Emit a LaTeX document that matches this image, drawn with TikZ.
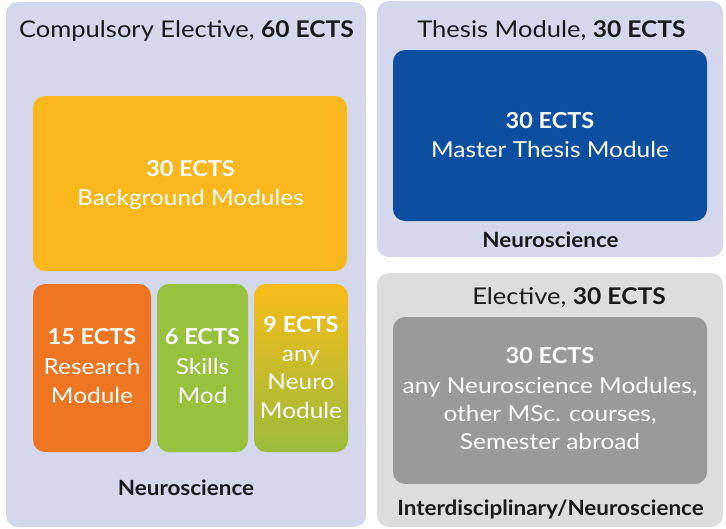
\documentclass[tikz,border=0pt]{standalone}
\usepackage{fontspec}
\setmainfont{Lato}[FakeStretch=1.11, BoldFeatures={FakeStretch=1.07}]
\definecolor{panelc}{HTML}{D5D8EC}
\definecolor{grayp}{HTML}{DDDDDD}
\definecolor{grayin}{HTML}{9A9A9A}
\definecolor{yellowc}{HTML}{FAB81C}
\definecolor{orangec}{HTML}{EE7522}
\definecolor{greenc}{HTML}{98C13D}
\definecolor{gtop}{HTML}{F8BC18}
\definecolor{gmid}{HTML}{EE7623}
\definecolor{gbot}{HTML}{9CBB3C}
\definecolor{bluec}{HTML}{0C4FA0}
\definecolor{darkt}{HTML}{1A1A1A}
\begin{document}
\begin{tikzpicture}[x=1pt,y=-1pt,
  panel/.style={rounded corners=12pt, inner sep=0pt, outer sep=0pt},
  box/.style={rounded corners=12pt, inner sep=0pt, outer sep=0pt},
  title/.style={anchor=base, inner sep=0pt, text=darkt, font=\fontsize{23}{28}\selectfont},
  foot/.style={anchor=base, inner sep=0pt, text=darkt, font=\fontsize{21}{25}\selectfont\bfseries},
  wt/.style={anchor=base, inner sep=0pt, text=white, font=\fontsize{22}{26}\selectfont},
  wb/.style={wt, font=\fontsize{22}{26}\selectfont\bfseries}]
\useasboundingbox (0,0) rectangle (726,528);
% panels
\node[panel, fill=panelc, minimum width=360pt, minimum height=525pt] (L) at (186,264.5) {};
\node[panel, fill=panelc, minimum width=346pt, minimum height=256pt] (RT) at (550,129) {};
\node[panel, fill=grayp, minimum width=346pt, minimum height=254pt] (RB) at (550,400) {};
% inner boxes
\node[box, fill=yellowc, minimum width=314pt, minimum height=175pt] (Y) at (190,183.5) {};
\node[box, fill=orangec, minimum width=118pt, minimum height=168pt] (O) at (92,368) {};
\node[box, fill=greenc, minimum width=91pt, minimum height=168pt] (G) at (202.5,368) {};
\node[box, top color=gtop, middle color=gmid, bottom color=gbot, minimum width=94pt, minimum height=168pt] (N) at (301,368) {};
\node[box, fill=bluec, minimum width=314pt, minimum height=171pt] (B) at (550,135.5) {};
\node[box, fill=grayin, minimum width=314pt, minimum height=167pt] (E) at (550,400.5) {};
% titles
\node[title] (tL) at (186.5,37) {Compulsory Elective, \textbf{60 ECTS}};
\node[title] (tRT) at (551.5,37) {Thesis Module, \textbf{30 ECTS}};
\node[title] (tRB) at (569,304) {Elective, \textbf{30 ECTS}};
% footers
\node[foot] (fL) at (186,495) {Neuroscience};
\node[foot] (fRT) at (550.5,247) {Neuroscience};
\node[foot] (fRB) at (550.5,515) {Interdisciplinary/Neuroscience};
% yellow
\node[wb] (y1) at (190.5,176) {30 ECTS};
\node[wt] (y2) at (190.5,205) {Background Modules};
% orange
\node[wb] (o1) at (92,344) {15 ECTS};
\node[wt] (o2) at (92,374) {Research};
\node[wt] (o3) at (92,403) {Module};
% green
\node[wb] (g1) at (202.5,344) {6 ECTS};
\node[wt] (g2) at (202.5,374) {Skills};
\node[wt] (g3) at (202.5,403) {Mod};
% gradient
\node[wb] (n1) at (301,332) {9 ECTS};
\node[wt] (n2) at (301,361) {any};
\node[wt] (n3) at (301,389) {Neuro};
\node[wt] (n4) at (301,418) {Module};
% blue
\node[wb] (b1) at (550,128) {30 ECTS};
\node[wt] (b2) at (550,157) {Master Thesis Module};
% gray
\node[wb] (e1) at (550,363) {30 ECTS};
\node[wt] (e2) at (550,393) {any Neuroscience Modules,};
\node[wt] (e3) at (550,421) {other MSc. courses,};
\node[wt] (e4) at (550,449) {Semester abroad};
\end{tikzpicture}
\end{document}
